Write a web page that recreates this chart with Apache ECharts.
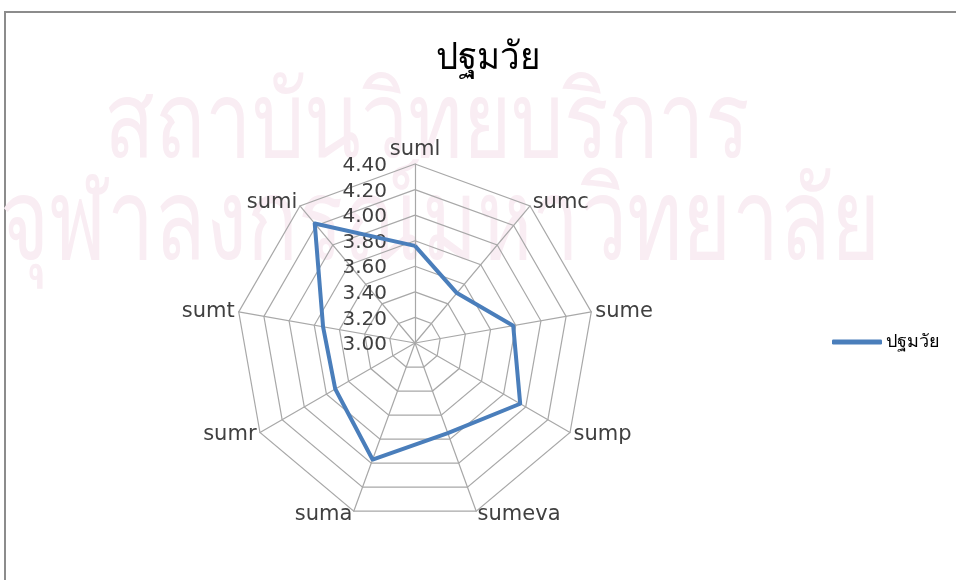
<!DOCTYPE html>
<html>
<head>
<meta charset="utf-8">
<script src="https://cdn.jsdelivr.net/npm/echarts@6/dist/echarts.min.js"></script>
<style>
html,body{margin:0;padding:0;background:#fff;}
#c{width:956px;height:580px;}
</style>
</head>
<body>
<div id="c"></div>
<script>
const titleText = 'ปฐมวัย';
const seriesName = 'ปฐมวัย';
const categories = ['suml','sumc','sume','sump','sumeva','suma','sumr','sumt','sumi'];
const values = [3.76, 3.51, 3.78, 3.95, 3.75, 3.97, 3.72, 3.73, 4.22];
const axisMin = 3.0;
const axisMax = 4.4;
const axisStep = 0.2;
const watermark1 = 'สถาบันวิทยบริการ';
const watermark2 = 'จุฬาลงกรณ์มหาวิทยาลัย';

// ECharts lays radar indicators counter-clockwise; Excel goes clockwise.
const order = [0].concat(categories.map((_, i) => i).slice(1).reverse());
const indicator = order.map(i => ({ name: categories[i], min: axisMin, max: axisMax }));
const data = order.map(i => values[i]);

function textWidth(txt, size) {
  const ctx = document.createElement('canvas').getContext('2d');
  ctx.font = size + 'px "DejaVu Sans"';
  return ctx.measureText(txt).width;
}
const wm1Size = 106, wm2Size = 114;
const wm1Scale = 646 / textWidth(watermark1, wm1Size);
const wm2Scale = 880 / textWidth(watermark2, wm2Size);
const titleSize = 38;
const titleScale = 104 / textWidth(titleText, titleSize);

const cx = 415, cy = 343, R = 179;
const chart = echarts.init(document.getElementById('c'));
chart.setOption({
  backgroundColor: '#ffffff',
  animation: false,
  graphic: [
    { type: 'rect', z: -10, silent: true,
      shape: { x: 5, y: 12, width: 2000, height: 2000 },
      style: { fill: 'none', stroke: '#8c8c8c', lineWidth: 2 } },
    { type: 'text', z: -5, silent: true, x: 104, y: 76, scaleX: wm1Scale,
      style: { text: watermark1, fontSize: wm1Size, fill: '#f9edf3', fontFamily: 'DejaVu Sans',
        textAlign: 'left', textVerticalAlign: 'top' } },
    { type: 'text', z: -5, silent: true, x: 0, y: 172, scaleX: wm2Scale,
      style: { text: watermark2, fontSize: wm2Size, fill: '#f9edf3', fontFamily: 'DejaVu Sans',
        textAlign: 'left', textVerticalAlign: 'top' } },
    { type: 'text', z: 10, silent: true, x: 488, y: 40, scaleX: titleScale,
      style: { text: titleText, fontSize: titleSize, fill: '#000', fontFamily: 'DejaVu Sans',
        textAlign: 'center', textVerticalAlign: 'top' } }
  ],
  legend: {
    left: 832, top: 332, padding: 0,
    itemWidth: 50, itemHeight: 5, icon: 'roundRect', itemGap: 4,
    textStyle: { fontSize: 18, color: '#000', fontFamily: 'DejaVu Sans', lineHeight: 20, padding: [0,0,0,-1] },
    data: [seriesName]
  },
  radar: {
    center: [cx, cy], radius: R, startAngle: 90,
    splitNumber: Math.round((axisMax - axisMin) / axisStep),
    shape: 'polygon',
    indicator: indicator,
    nameGap: 4,
    axisName: { color: '#404040', fontSize: 21, fontFamily: 'DejaVu Sans' },
    axisLine: { lineStyle: { color: '#a8a8a8', width: 1.2 } },
    splitLine: { lineStyle: { color: '#a8a8a8', width: 1.2 } },
    splitArea: { show: false },
    axisLabel: { show: false }
  },
  grid: { left: cx, top: cy - R + 2, width: 1, height: R, containLabel: false },
  xAxis: { type: 'value', show: false },
  yAxis: {
    type: 'value', min: axisMin, max: axisMax, interval: axisStep,
    axisLine: { show: false }, axisTick: { show: false }, splitLine: { show: false },
    axisLabel: { margin: 28, fontSize: 20, color: '#404040', fontFamily: 'DejaVu Sans',
      formatter: v => v.toFixed(2) }
  },
  series: [{
    type: 'radar', name: seriesName,
    symbol: 'none',
    lineStyle: { color: '#4a7ebb', width: 4 },
    itemStyle: { color: '#4a7ebb' },
    data: [{ value: data, name: seriesName }]
  }]
});
</script>
</body>
</html>
